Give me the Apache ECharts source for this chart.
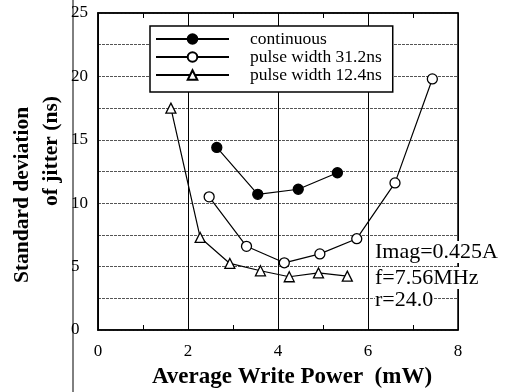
<!DOCTYPE html>
<html>
<head>
<meta charset="utf-8">
<script src="https://cdn.jsdelivr.net/npm/echarts@6/dist/echarts.min.js"></script>
<style>
  html, body { margin: 0; padding: 0; background: #fff; }
  #chart { width: 507px; height: 392px; }
</style>
</head>
<body>
<div id="chart"></div>
<script>
// 数据
const seriesNames = ['continuous', 'pulse width 31.2ns', 'pulse width 12.4ns'];
const powerContinuous = [2.64, 3.55, 4.45, 5.32];
const jitterContinuous = [14.4, 10.7, 11.1, 12.4];
const power312 = [2.47, 3.30, 4.14, 4.93, 5.75, 6.60, 7.43];
const jitter312 = [10.5, 6.6, 5.3, 6.0, 7.2, 11.6, 19.8];
const power124 = [1.62, 2.27, 2.93, 3.61, 4.25, 4.90, 5.54];
const jitter124 = [17.5, 7.3, 5.25, 4.67, 4.2, 4.5, 4.25];
const notes = ['Imag=0.425A', 'f=7.56MHz', 'r=24.0'];

const serif = '"Liberation Serif", "DejaVu Serif", serif';

const zip = (xs, ys) => xs.map((x, i) => [x, ys[i]]);

const lineSeries = (name, data, symbol, fill) => ({
  name: name,
  type: 'line',
  data: data,
  symbol: symbol,
  symbolSize: 10,
  lineStyle: { color: '#000', width: 1.2 },
  itemStyle: { color: fill, borderColor: '#000', borderWidth: 1.3 },
  z: 3
});

const chart = echarts.init(document.getElementById('chart'));

const option = {
  animation: false,
  backgroundColor: '#fff',
  grid: {
    left: 98,
    right: 49,
    top: 13,
    bottom: 62,
    show: true,
    borderColor: '#000',
    borderWidth: 1.5
  },
  legend: {
    data: seriesNames,
    orient: 'vertical',
    left: 150,
    top: 26,
    itemWidth: 73,
    itemHeight: 12,
    itemGap: 0,
    padding: [4, 11, 8, 5],
    backgroundColor: '#fff',
    borderColor: '#000',
    borderWidth: 1.5,
    textStyle: { fontFamily: serif, fontSize: 17.5, color: '#000', padding: [0, 0, 0, 16] }
  },
  xAxis: [
    {
      type: 'value',
      min: 0,
      max: 8,
      interval: 2,
      position: 'bottom',
      axisLine: { lineStyle: { color: '#000', width: 1.5 } },
      axisTick: { show: true, inside: true, length: 5, lineStyle: { color: '#000' } },
      minorTick: { show: true, splitNumber: 2, length: 5, lineStyle: { color: '#000' } },
      splitLine: { show: true, lineStyle: { color: '#000', width: 1 } },
      axisLabel: { fontFamily: serif, fontSize: 17, color: '#000', margin: 13 }
    },
    {
      type: 'value',
      min: 0,
      max: 8,
      interval: 2,
      position: 'top',
      axisLine: { lineStyle: { color: '#000', width: 1.5 } },
      axisTick: { show: true, inside: true, length: 5, lineStyle: { color: '#000' } },
      minorTick: { show: true, splitNumber: 2, length: 5, lineStyle: { color: '#000' } },
      splitLine: { show: false },
      axisLabel: { show: false }
    }
  ],
  yAxis: {
    type: 'value',
    min: 0,
    max: 25,
    interval: 5,
    axisLine: { show: true, lineStyle: { color: '#000', width: 1.5 } },
    axisTick: { show: false },
    splitLine: { show: true, lineStyle: { color: '#555', width: 1, type: [3, 1] } },
    minorSplitLine: { show: true, lineStyle: { color: '#555', width: 1, type: [3, 1] } },
    minorTick: { show: false, splitNumber: 2 },
    axisLabel: { fontFamily: serif, fontSize: 17, color: '#000', margin: 27, align: 'left' }
  },
  graphic: [
    // 左侧扫描竖线
    { type: 'line', shape: { x1: 73, y1: 0, x2: 73, y2: 392 }, style: { stroke: '#000', lineWidth: 1 }, z: 0 },
    {
      type: 'text', x: 22, y: 195, rotation: Math.PI / 2,
      style: { text: 'Standard deviation', fontFamily: serif, fontSize: 21.5, fontWeight: 'bold', fill: '#000', align: 'center', verticalAlign: 'middle' }
    },
    {
      type: 'text', x: 51, y: 151, rotation: Math.PI / 2,
      style: { text: 'of jitter (ns)', fontFamily: serif, fontSize: 21.5, fontWeight: 'bold', fill: '#000', align: 'center', verticalAlign: 'middle' }
    },
    {
      type: 'text', x: 292, y: 377,
      style: { text: 'Average Write Power  (mW)', fontFamily: serif, fontSize: 23, fontWeight: 'bold', fill: '#000', align: 'center', verticalAlign: 'middle' }
    },
    {
      type: 'text', x: 375, y: 252, z: 10,
      style: { text: notes[0], fontFamily: serif, fontSize: 22, fill: '#000', verticalAlign: 'middle', backgroundColor: '#fff' }
    },
    {
      type: 'text', x: 375, y: 278, z: 10,
      style: { text: notes[1], fontFamily: serif, fontSize: 22, fill: '#000', verticalAlign: 'middle', backgroundColor: '#fff' }
    },
    {
      type: 'text', x: 375, y: 300, z: 10,
      style: { text: notes[2], fontFamily: serif, fontSize: 22, fill: '#000', verticalAlign: 'middle', backgroundColor: '#fff' }
    }
  ],
  series: [
    lineSeries(seriesNames[0], zip(powerContinuous, jitterContinuous), 'circle', '#000'),
    lineSeries(seriesNames[1], zip(power312, jitter312), 'circle', '#fff'),
    lineSeries(seriesNames[2], zip(power124, jitter124), 'triangle', '#fff')
  ]
};

chart.setOption(option);
</script>
</body>
</html>
